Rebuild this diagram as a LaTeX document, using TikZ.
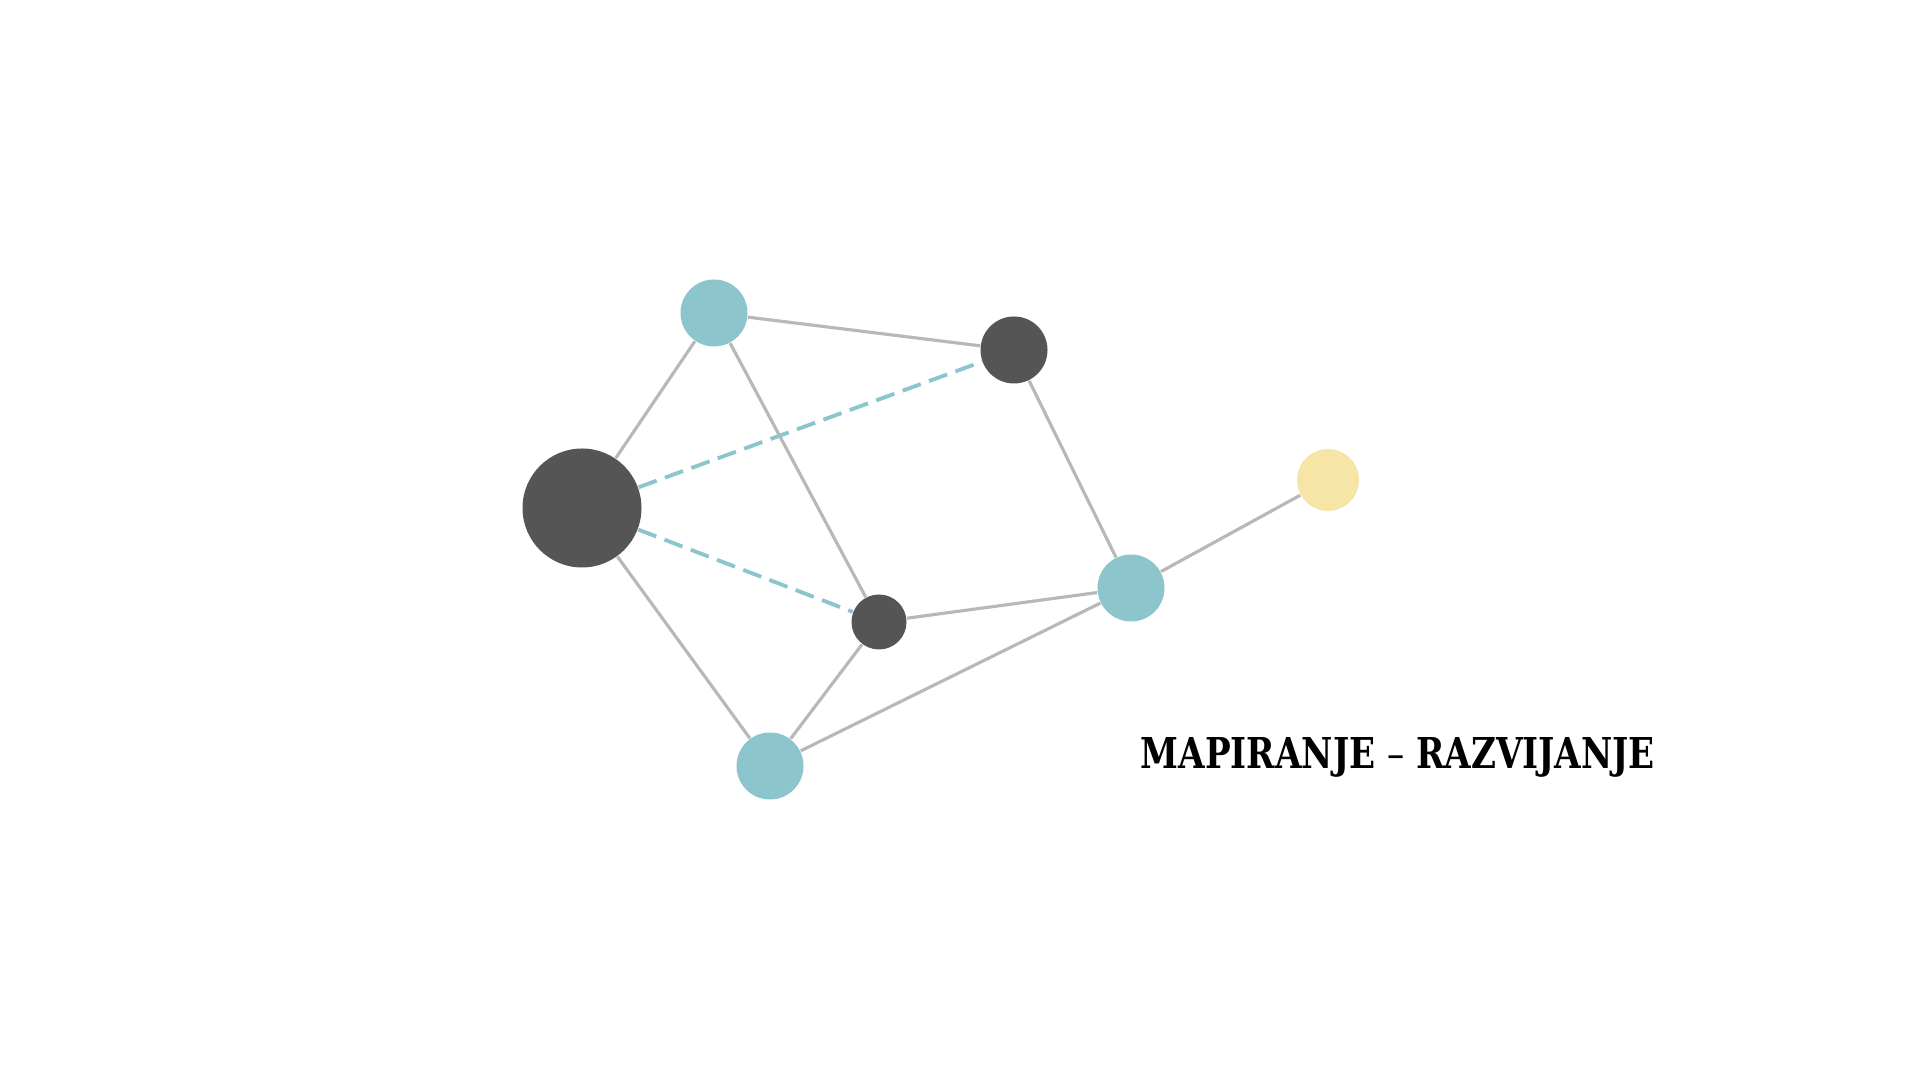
\documentclass[tikz,border=0pt]{standalone}
\usepackage{fontspec}
\setmainfont{DejaVu Serif Condensed}
\definecolor{teal1}{HTML}{8CC6CC}
\definecolor{dark1}{HTML}{555555}
\definecolor{yellow1}{HTML}{F5E6A8}
\definecolor{edge1}{HTML}{B8B8B8}
\begin{document}
\begin{tikzpicture}[
  dot/.style={circle, inner sep=0pt, minimum size=#1},
  link/.style={draw=edge1, line width=0.9pt},
  dlink/.style={draw=teal1, line width=1.1pt, dash pattern=on 5.5pt off 2.5pt}]
\useasboundingbox (0,0) rectangle (19.2,10.8);
\node (big) at (5.82,5.72) [dot=1.19cm, fill=dark1] {};
\node (topT) at (7.14,7.67) [dot=0.67cm, fill=teal1] {};
\node (topD) at (10.14,7.30) [dot=0.67cm, fill=dark1] {};
\node (midD) at (8.79,4.58) [dot=0.55cm, fill=dark1] {};
\node (rightT) at (11.31,4.92) [dot=0.67cm, fill=teal1] {};
\node (yel) at (13.28,6.00) [dot=0.62cm, fill=yellow1] {};
\node (botT) at (7.70,3.14) [dot=0.67cm, fill=teal1] {};
\draw [link] (big) -- (topT);
\draw [link] (topT) -- (topD);
\draw [link] (topT) -- (midD);
\draw [link] (topD) -- (rightT);
\draw [link] (big) -- (botT);
\draw [link] (midD) -- (botT);
\draw [link] (midD) -- (rightT);
\draw [link] (botT) -- (rightT);
\draw [link] (rightT) -- (yel);
\draw [dlink] (big) -- (topD);
\draw [dlink] (big) -- (midD);
\node (title) at (11.40,3.11) [anchor=base west, inner sep=0pt] {\resizebox{5.14cm}{0.31cm}{\bfseries MAPIRANJE {\mdseries –} RAZVIJANJE}};
\end{tikzpicture}
\end{document}
